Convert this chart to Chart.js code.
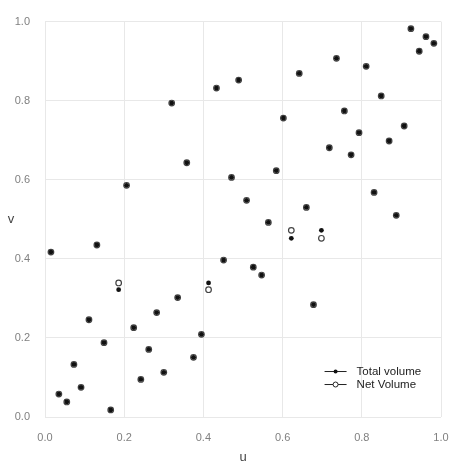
<!DOCTYPE html>
<html>
<head>
<meta charset="utf-8">
<script src="https://cdn.jsdelivr.net/npm/chart.js@4"></script>
<style>
    html, body { margin: 0; padding: 0; background: #fff; }
    #wrap { width: 452px; height: 464px; position: relative; }
</style>
</head>
<body>
<div id="wrap"><canvas id="scatterChart"></canvas></div>
<script>
// u 값 (가로축)
const uValues = [0.015, 0.035, 0.055, 0.073, 0.091, 0.111, 0.131, 0.149, 0.166, 0.186,
    0.206, 0.224, 0.242, 0.262, 0.282, 0.300, 0.320, 0.335, 0.358, 0.375,
    0.395, 0.413, 0.433, 0.451, 0.471, 0.489, 0.509, 0.526, 0.547, 0.564,
    0.584, 0.602, 0.622, 0.642, 0.660, 0.678, 0.698, 0.718, 0.736, 0.756,
    0.773, 0.793, 0.811, 0.831, 0.849, 0.869, 0.887, 0.907, 0.924, 0.945,
    0.962, 0.982];
// Total volume 의 v 값
const totalVolume = [0.417, 0.058, 0.038, 0.133, 0.075, 0.246, 0.435, 0.188, 0.018, 0.322,
    0.586, 0.226, 0.095, 0.171, 0.264, 0.113, 0.794, 0.302, 0.643, 0.151,
    0.209, 0.339, 0.832, 0.397, 0.606, 0.852, 0.548, 0.379, 0.359, 0.492,
    0.623, 0.756, 0.452, 0.869, 0.530, 0.284, 0.472, 0.681, 0.907, 0.774,
    0.663, 0.719, 0.887, 0.568, 0.812, 0.698, 0.510, 0.736, 0.982, 0.925,
    0.962, 0.945];
// Net Volume 의 v 값 (대부분 Total 과 겹침)
const netVolume = [0.417, 0.058, 0.038, 0.133, 0.075, 0.246, 0.435, 0.188, 0.018, 0.339,
    0.586, 0.226, 0.095, 0.171, 0.264, 0.113, 0.794, 0.302, 0.643, 0.151,
    0.209, 0.322, 0.832, 0.397, 0.606, 0.852, 0.548, 0.379, 0.359, 0.492,
    0.623, 0.756, 0.472, 0.869, 0.530, 0.284, 0.452, 0.681, 0.907, 0.774,
    0.663, 0.719, 0.887, 0.568, 0.812, 0.698, 0.510, 0.736, 0.982, 0.925,
    0.962, 0.945];
const axisTicks = [0, 0.2, 0.4, 0.6, 0.8, 1.0];
const seriesNames = ['Total volume', 'Net Volume'];

const toPoints = (xs, ys) => xs.map((x, i) => ({ x: x, y: ys[i] }));

// 축 제목 (회전 없이) 과 범례를 직접 그림
const decorPlugin = {
    id: 'decor',
    afterDraw(chart) {
        const ctx = chart.ctx;
        const area = chart.chartArea;
        ctx.save();
        ctx.fillStyle = '#444';
        ctx.font = '13px "Liberation Sans", Arial, sans-serif';
        ctx.textAlign = 'center';
        ctx.textBaseline = 'middle';
        ctx.fillText('v', 11, (area.top + area.bottom) / 2);
        ctx.fillText('u', (area.left + area.right) / 2, 457);

        // 범례
        const lx = area.left + (area.right - area.left) * 0.706;
        const ly = area.top + (area.bottom - area.top) * 0.885;
        ctx.font = '11.5px "Liberation Sans", Arial, sans-serif';
        ctx.textAlign = 'left';
        seriesNames.forEach((name, i) => {
            const y = ly + i * 13;
            ctx.strokeStyle = '#222';
            ctx.lineWidth = 1;
            ctx.beginPath();
            ctx.moveTo(lx, y);
            ctx.lineTo(lx + 22, y);
            ctx.stroke();
            ctx.beginPath();
            if (i === 0) {
                ctx.fillStyle = '#111';
                ctx.arc(lx + 11, y, 2, 0, Math.PI * 2);
                ctx.fill();
            } else {
                ctx.fillStyle = '#fff';
                ctx.arc(lx + 11, y, 2.5, 0, Math.PI * 2);
                ctx.fill();
                ctx.stroke();
            }
            ctx.fillStyle = '#222';
            ctx.fillText(name, lx + 32, y);
        });
        ctx.restore();
    }
};

document.addEventListener('DOMContentLoaded', function() {
    const canvas = document.getElementById('scatterChart');
    new Chart(canvas, {
        type: 'scatter',
        data: {
            datasets: [{
                label: seriesNames[0],
                data: toPoints(uValues, totalVolume),
                pointStyle: 'circle',
                pointRadius: 2.4,
                pointBackgroundColor: '#111',
                pointBorderColor: '#111',
                pointBorderWidth: 0
            }, {
                label: seriesNames[1],
                data: toPoints(uValues, netVolume),
                pointStyle: 'circle',
                pointRadius: 2.8,
                pointBackgroundColor: '#fff',
                pointBorderColor: '#444',
                pointBorderWidth: 1.2
            }]
        },
        options: {
            responsive: true,
            maintainAspectRatio: false,
            animation: false,
            events: [],
            layout: { padding: { top: 19, right: 0, left: 0, bottom: 0 } },
            plugins: {
                legend: { display: false },
                tooltip: { enabled: false }
            },
            scales: {
                x: {
                    type: 'linear',
                    min: 0,
                    max: 1,
                    afterBuildTicks: s => { s.ticks = axisTicks.map(v => ({ value: v })); },
                    afterFit: s => { s.height = 47; s.paddingRight = 11; },
                    grid: { color: '#e8e8e8', drawTicks: false },
                    border: { display: false },
                    ticks: {
                        padding: 14,
                        color: '#808080',
                        font: { size: 11, family: '"Liberation Sans", Arial, sans-serif' },
                        callback: v => v.toFixed(1)
                    }
                },
                y: {
                    type: 'linear',
                    min: 0,
                    max: 1,
                    afterBuildTicks: s => { s.ticks = axisTicks.map(v => ({ value: v })); },
                    afterFit: s => { s.width = 45; },
                    grid: { color: '#e8e8e8', drawTicks: false },
                    border: { display: false },
                    ticks: {
                        padding: 15,
                        color: '#808080',
                        font: { size: 11, family: '"Liberation Sans", Arial, sans-serif' },
                        callback: v => v.toFixed(1)
                    }
                }
            }
        },
        plugins: [decorPlugin]
    });
});
</script>
</body>
</html>
